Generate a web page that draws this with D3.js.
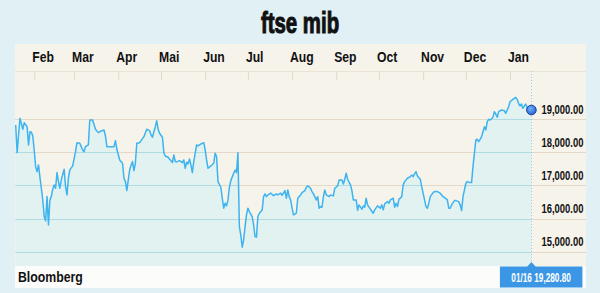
<!DOCTYPE html>
<html><head><meta charset="utf-8">
<script src="https://cdn.jsdelivr.net/npm/d3@7"></script>
<style>
html,body{margin:0;padding:0;background:#e1f0f5;}
svg{display:block;}
</style></head><body>
<svg id="chart" width="600" height="293"></svg>
<script>
const title = "ftse mib";
const source = "Bloomberg";
const monthLabels = ["Feb","Mar","Apr","Mai","Jun","Jul","Aug","Sep","Oct","Nov","Dec","Jan"];
const yTicks = [15000, 16000, 17000, 18000, 19000];
const lastLabel = "01/16 19,280.80";

const dates = [
"2013-01-19","2013-01-20","2013-01-22","2013-01-24","2013-01-25","2013-01-27","2013-01-28","2013-01-29","2013-01-30","2013-01-31",
"2013-02-01","2013-02-02","2013-02-03","2013-02-04","2013-02-05","2013-02-06","2013-02-07","2013-02-08","2013-02-09","2013-02-10","2013-02-11","2013-02-12","2013-02-13","2013-02-14","2013-02-15","2013-02-16","2013-02-17","2013-02-18","2013-02-19","2013-02-20","2013-02-22","2013-02-23","2013-02-24","2013-02-25","2013-02-26","2013-02-28",
"2013-03-02","2013-03-03","2013-03-05","2013-03-06","2013-03-07","2013-03-08","2013-03-09","2013-03-11","2013-03-12","2013-03-14","2013-03-16","2013-03-18","2013-03-20","2013-03-22","2013-03-23","2013-03-24","2013-03-27","2013-03-29","2013-03-30","2013-03-31",
"2013-04-02","2013-04-04","2013-04-05","2013-04-06","2013-04-07","2013-04-09","2013-04-10","2013-04-11","2013-04-12","2013-04-13","2013-04-14","2013-04-16","2013-04-17","2013-04-19","2013-04-21","2013-04-23","2013-04-24","2013-04-25","2013-04-26","2013-04-27","2013-04-28","2013-04-29","2013-04-30",
"2013-05-02","2013-05-03","2013-05-04","2013-05-06","2013-05-08","2013-05-09","2013-05-10","2013-05-11","2013-05-12","2013-05-14","2013-05-16","2013-05-17","2013-05-18","2013-05-19","2013-05-20","2013-05-21","2013-05-22","2013-05-23","2013-05-24","2013-05-26","2013-05-27","2013-05-29","2013-05-31",
"2013-06-01","2013-06-02","2013-06-03","2013-06-05","2013-06-07","2013-06-08","2013-06-09","2013-06-10","2013-06-12","2013-06-13","2013-06-14","2013-06-15","2013-06-16","2013-06-17","2013-06-18","2013-06-19","2013-06-21","2013-06-22","2013-06-23","2013-06-24","2013-06-25","2013-06-26","2013-06-27","2013-06-28","2013-06-29","2013-06-30",
"2013-07-01","2013-07-02","2013-07-04","2013-07-05","2013-07-06","2013-07-07","2013-07-08","2013-07-09","2013-07-11","2013-07-12","2013-07-13","2013-07-14","2013-07-15","2013-07-17","2013-07-19","2013-07-21","2013-07-22","2013-07-24","2013-07-25","2013-07-27","2013-07-28","2013-07-29","2013-07-30","2013-07-31",
"2013-08-01","2013-08-02","2013-08-04","2013-08-05","2013-08-07","2013-08-08","2013-08-10","2013-08-11","2013-08-12","2013-08-14","2013-08-15","2013-08-16","2013-08-18","2013-08-19","2013-08-20","2013-08-21","2013-08-22","2013-08-23","2013-08-24","2013-08-25","2013-08-27","2013-08-28","2013-08-30","2013-08-31",
"2013-09-02","2013-09-03","2013-09-05","2013-09-06","2013-09-07","2013-09-08","2013-09-09","2013-09-11","2013-09-12","2013-09-13","2013-09-15","2013-09-16","2013-09-17","2013-09-19","2013-09-20","2013-09-21","2013-09-22","2013-09-23","2013-09-25","2013-09-27","2013-09-28","2013-09-30",
"2013-10-02","2013-10-03","2013-10-04","2013-10-05","2013-10-07","2013-10-08","2013-10-09","2013-10-11","2013-10-12","2013-10-13","2013-10-14","2013-10-15","2013-10-16","2013-10-17","2013-10-18","2013-10-19","2013-10-21","2013-10-23","2013-10-24","2013-10-25","2013-10-26","2013-10-27","2013-10-28","2013-10-30","2013-10-31",
"2013-11-02","2013-11-03","2013-11-04","2013-11-05","2013-11-06","2013-11-08","2013-11-09","2013-11-11","2013-11-13","2013-11-14","2013-11-15","2013-11-17","2013-11-18","2013-11-19","2013-11-20","2013-11-21","2013-11-23","2013-11-24","2013-11-26","2013-11-27","2013-11-28","2013-11-29",
"2013-12-01","2013-12-02","2013-12-04","2013-12-05","2013-12-06","2013-12-08","2013-12-09","2013-12-10","2013-12-11","2013-12-12","2013-12-13","2013-12-14","2013-12-15","2013-12-16","2013-12-17","2013-12-18","2013-12-20","2013-12-21","2013-12-22","2013-12-23","2013-12-24","2013-12-26","2013-12-28","2013-12-29","2013-12-31",
"2014-01-01","2014-01-03","2014-01-05","2014-01-06","2014-01-07","2014-01-08","2014-01-09","2014-01-10","2014-01-12","2014-01-13","2014-01-14","2014-01-16"
];
const values = [
18828,17991,19030,18698,18897,18777,18224,18626,18607,18496,
18073,17569,17418,17620,17250,16916,16563,16059,15930,16663,15808,16563,16663,16886,17016,16916,17388,17116,16916,17167,17490,16966,16714,17218,17469,17590,
18022,18293,18275,18173,18073,18022,18173,18224,18979,18979,18698,18597,18647,18677,18496,18173,18173,18173,18354,18094,
17771,17671,17218,17116,16844,17469,17620,17720,17449,17671,18275,18293,18354,18475,18698,18657,18526,18456,18626,18777,18958,18698,18577,
18456,17991,17892,17852,17750,17690,17922,17720,17711,17750,17690,17771,17520,17700,17650,17800,17620,17388,17720,18224,18194,18254,18293,
18073,17771,17520,17590,17671,17973,17871,17116,16946,16614,16312,16463,16382,16563,16946,17146,17369,17469,17388,17991,15757,15506,15134,15355,15757,16110,
16312,16210,16059,15808,15454,15436,16059,16161,16261,16663,16744,16663,16714,16770,16690,16744,16714,16765,16704,16844,16614,16865,16663,16563,
16312,16110,16161,16614,16714,16783,16844,16946,16986,16916,16814,16744,16563,16663,16312,16362,16342,16663,16865,16714,16663,16714,16684,16916,
16986,17167,17167,17046,17188,17369,17188,17016,16844,16563,16563,16250,16412,16282,16382,16342,16614,16412,16282,16161,16261,16382,
16312,16412,16261,16442,16512,16463,16563,16614,16342,16463,16362,16584,16614,16663,17016,17116,17218,17267,17318,17267,17348,17418,17288,17188,16966,
16563,16362,16312,16463,16663,16783,16814,16814,16765,16714,16663,16600,16563,16312,16312,16412,16542,16542,16512,16412,16240,16663,
17067,17116,17086,17086,17569,18375,18396,18324,18396,18475,18626,18777,18677,18928,19000,18979,19060,19230,19160,19060,19230,19281,19260,19181,19381,
19532,19604,19664,19604,19483,19402,19462,19332,19462,19362,19281,19280.8
];

const FONT = "'Liberation Sans',Arial,sans-serif";
const svg = d3.select("#chart");
const P = {left: 15, right: 586, top: 44, bottom: 288};
const headerLine = 71, tickBase = 80, plotBottom = 266;

const parse = d3.timeParse("%Y-%m-%d");
const data = dates.map((d, i) => ({date: parse(d), value: values[i]}));
const last = data[data.length - 1];

const x = d3.scaleTime().domain([data[0].date, last.date]).range([15.7, 531.4]);
const y = d3.scaleLinear().domain([15000, 19000]).range([251.6, 119.3]);

// panel
svg.append("rect").attr("x", P.left).attr("y", P.top).attr("width", P.right - P.left)
  .attr("height", plotBottom - P.top).attr("fill", "#f6f3ea");
svg.append("line").attr("x1", P.left).attr("x2", P.right).attr("y1", headerLine + 0.5).attr("y2", headerLine + 0.5)
  .attr("stroke", "#ebe4d6").attr("stroke-width", 1);
svg.append("rect").attr("x", P.left).attr("y", plotBottom).attr("width", P.right - P.left)
  .attr("height", P.bottom - plotBottom).attr("fill", "#fcfcfa");

// gridlines (tan)
svg.append("g").selectAll("line").data(yTicks).join("line")
  .attr("x1", P.left).attr("x2", P.right)
  .attr("y1", d => Math.round(y(d)) + 0.5).attr("y2", d => Math.round(y(d)) + 0.5)
  .attr("stroke", "#e4d8c8").attr("stroke-width", 1);

// area
const area = d3.area().x(d => x(d.date)).y0(plotBottom).y1(d => y(d.value));
svg.append("clipPath").attr("id", "areaClip").append("path").attr("d", area(data));
svg.append("path").attr("d", area(data)).attr("fill", "#e1f2f1");

// gridlines under area (teal)
svg.append("g").attr("clip-path", "url(#areaClip)").selectAll("line").data(yTicks).join("line")
  .attr("x1", P.left).attr("x2", P.right)
  .attr("y1", d => Math.round(y(d)) + 0.5).attr("y2", d => Math.round(y(d)) + 0.5)
  .attr("stroke", "#b0dbe0").attr("stroke-width", 1);

// month axis
const months = d3.timeMonth.range(new Date(2013, 1, 1), new Date(2014, 0, 2));
const xAxis = d3.axisTop(x).tickValues(months).tickSizeInner(tickBase - headerLine).tickSizeOuter(0)
  .tickFormat((d, i) => monthLabels[i]);
const gx = svg.append("g").attr("transform", `translate(0,${tickBase})`).call(xAxis);
gx.select(".domain").remove();
gx.selectAll(".tick line").attr("stroke", "#e2d9ca");
gx.selectAll(".tick text").attr("x", -3).attr("y", -(tickBase - 62)).attr("dy", 0)
  .attr("text-anchor", "start").attr("transform", "scale(0.84,1)")
  .attr("fill", "#111").style("font-family", FONT)
  .style("font-size", "14.5px").style("font-weight", "bold");

// dotted vertical line at last point
svg.append("line").attr("x1", Math.round(x(last.date)) + 0.5).attr("x2", Math.round(x(last.date)) + 0.5)
  .attr("y1", headerLine).attr("y2", 262).attr("stroke", "#9fc8ea").attr("stroke-width", 1)
  .attr("stroke-dasharray", "1,2");

// line
const line = d3.line().x(d => x(d.date)).y(d => y(d.value));
svg.append("path").attr("d", line(data)).attr("fill", "none").attr("stroke", "#3db3f0")
  .attr("stroke-width", 1.5).attr("stroke-linejoin", "round");

// last dot
const grad = svg.append("defs").append("radialGradient").attr("id", "dotg").attr("cx", "40%").attr("cy", "35%").attr("r", "65%");
grad.append("stop").attr("offset", "0%").attr("stop-color", "#6fb0ff");
grad.append("stop").attr("offset", "100%").attr("stop-color", "#2a66d6");
svg.append("circle").attr("cx", x(last.date)).attr("cy", y(last.value)).attr("r", 4.8)
  .attr("fill", "url(#dotg)").attr("stroke", "#1a3f8f").attr("stroke-width", 1);

// y axis labels
const yAxis = d3.axisRight(y).tickValues(yTicks).tickSize(0).tickFormat(d3.format(",.2f"));
const gy = svg.append("g").attr("transform", "translate(541.5,0)").call(yAxis);
gy.select(".domain").remove();
gy.selectAll(".tick text").attr("x", 0).attr("y", -6).attr("dy", 0).attr("text-anchor", "start")
  .attr("transform", "scale(0.7,1)").attr("fill", "#111").style("font-family", FONT)
  .style("font-size", "13.5px").style("font-weight", "bold");

// tooltip
const lx = x(last.date);
svg.append("path").attr("d", `M${lx - 4.5},267 L${lx},262 L${lx + 4.5},267 Z`).attr("fill", "#3b97e6");
svg.append("rect").attr("x", lx - 31.5).attr("y", 266.5).attr("width", 82.5).attr("height", 21)
  .attr("fill", "#3b97e6");
svg.append("g").attr("transform", `translate(${lx + 9.7},281.5) scale(0.66,1)`)
  .append("text").attr("text-anchor", "middle").attr("fill", "#fff").style("font-family", FONT)
  .style("font-size", "12.5px").style("font-weight", "bold").text(lastLabel);

// source
svg.append("g").attr("transform", "translate(18,282) scale(0.82,1)")
  .append("text").attr("fill", "#111").style("font-family", FONT)
  .style("font-size", "15px").style("font-weight", "bold").text(source);

// title
svg.append("g").attr("transform", "translate(300,32.5) scale(0.68,1)")
  .append("text").attr("text-anchor", "middle").attr("fill", "#111").attr("stroke", "#111")
  .attr("stroke-width", 1.1).style("font-family", FONT).style("font-size", "30px")
  .style("font-weight", "bold").text(title);
</script>
</body></html>
